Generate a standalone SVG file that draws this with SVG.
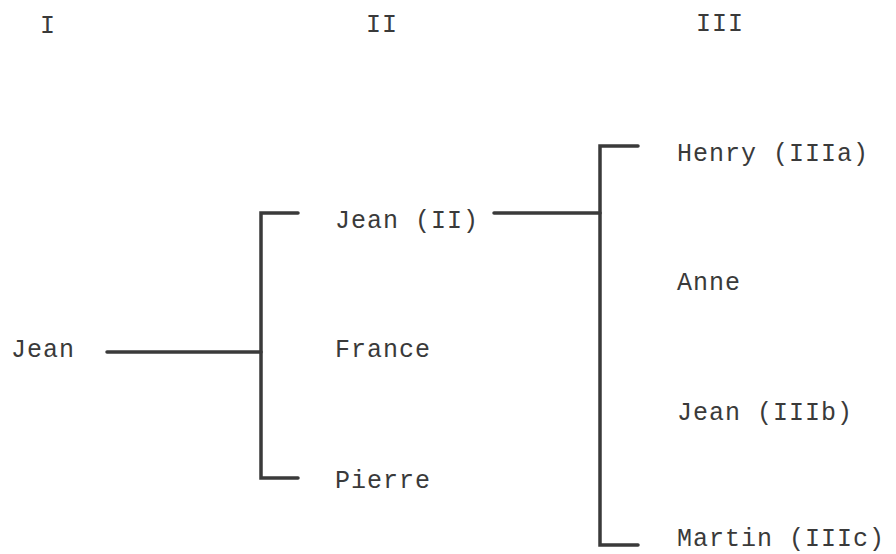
<svg xmlns="http://www.w3.org/2000/svg" width="896" height="554" viewBox="0 0 896 554">
<style>
text{font-family:"Liberation Mono","DejaVu Sans Mono",monospace;font-size:25px;letter-spacing:1px;fill:#3a3a3a}
.c{stroke:#3a3a3a;stroke-width:3.5;fill:none;stroke-linecap:round;stroke-linejoin:miter}
</style>
<rect width="896" height="554" fill="#fff"/>
<g id="headers">
<text x="40" y="33">I</text>
<text x="366" y="32">II</text>
<text x="696" y="31">III</text>
</g>
<g id="connectors">
<path class="c" d="M107 352 H261"/>
<path class="c" d="M298 213 H261 V478 H298"/>
<path class="c" d="M494 213 H600"/>
<path class="c" d="M638 146 H600 V545 H638"/>
</g>
<g id="n-jean"><text x="11" y="357">Jean</text></g>
<g id="n-jean2"><text x="335" y="228">Jean (II)</text></g>
<g id="n-france"><text x="335" y="357">France</text></g>
<g id="n-pierre"><text x="335" y="488">Pierre</text></g>
<g id="n-henry"><text x="677" y="161">Henry (IIIa)</text></g>
<g id="n-anne"><text x="677" y="290">Anne</text></g>
<g id="n-jean3"><text x="677" y="420">Jean (IIIb)</text></g>
<g id="n-martin"><text x="677" y="546">Martin (IIIc)</text></g>
</svg>
